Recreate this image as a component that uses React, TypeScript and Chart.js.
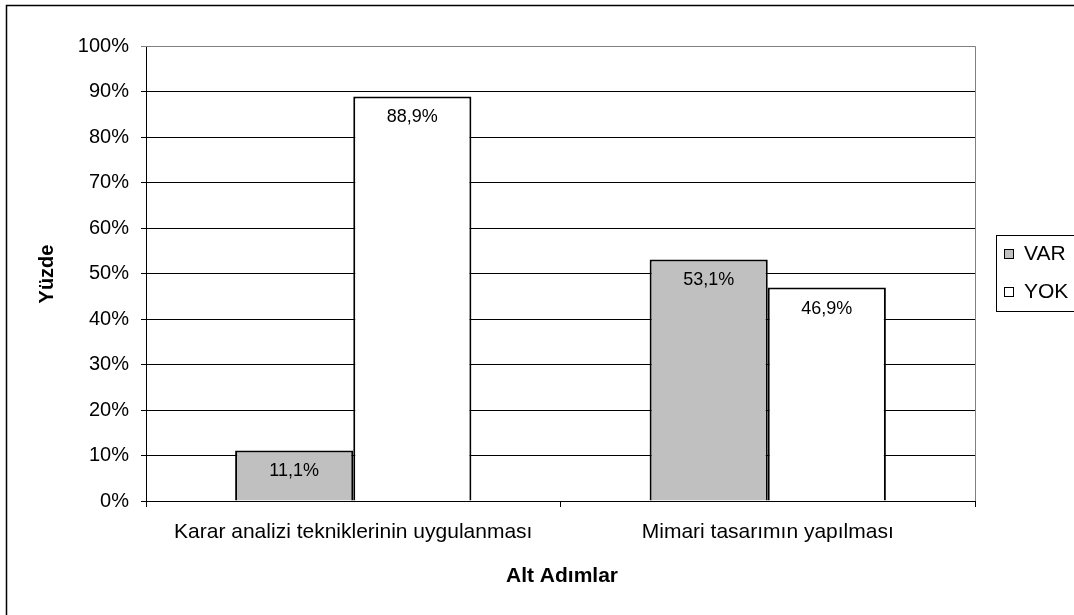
import React, { useEffect, useRef } from "react";
import { Chart, registerables } from "chart.js";

Chart.register(...registerables);

const categories = ["Karar analizi tekniklerinin uygulanması", "Mimari tasarımın yapılması"];
const seriesNames = ["VAR", "YOK"];
const varValues = [11.1, 53.1];
const yokValues = [88.9, 46.9];
const yTickValues = [0, 10, 20, 30, 40, 50, 60, 70, 80, 90, 100];
const seriesColors = ["#C0C0C0", "#FFFFFF"];
const yTitle = "Yüzde";
const xTitle = "Alt Adımlar";

const FONT = "'Liberation Sans', Arial, sans-serif";

const fmt = (v: number) => v.toFixed(1).replace(".", ",") + "%";

const decorPlugin = {
  id: "decor",
  beforeDraw(chart: any) {
    const ctx = chart.ctx;
    ctx.save();
    ctx.fillStyle = "#fff";
    ctx.fillRect(0, 0, chart.width, chart.height);
    ctx.restore();
  },
  afterDatasetsDraw(chart: any) {
    const ctx = chart.ctx;
    ctx.save();
    ctx.font = `18px ${FONT}`;
    ctx.fillStyle = "#000";
    ctx.textAlign = "center";
    ctx.textBaseline = "middle";
    chart.data.datasets.forEach((ds: any, di: number) => {
      const meta = chart.getDatasetMeta(di);
      meta.data.forEach((bar: any, i: number) => {
        ctx.fillText(fmt(ds.data[i]), bar.x, bar.y + 21);
      });
    });
    ctx.restore();
  },
  afterDraw(chart: any) {
    const ctx = chart.ctx;
    const a = chart.chartArea;
    ctx.save();
    // plot area grey border (top/right)
    ctx.strokeStyle = "#808080";
    ctx.lineWidth = 1;
    ctx.beginPath();
    ctx.moveTo(a.left, Math.round(a.top) + 0.5);
    ctx.lineTo(Math.round(a.right) + 0.5, Math.round(a.top) + 0.5);
    ctx.lineTo(Math.round(a.right) + 0.5, a.bottom);
    ctx.stroke();
    // outer border
    ctx.strokeStyle = "#000";
    ctx.lineWidth = 1.5;
    ctx.strokeRect(6.5, 5.5, 3000, 3000);
    // axis titles
    ctx.fillStyle = "#000";
    ctx.font = `bold 21px ${FONT}`;
    ctx.textAlign = "center";
    ctx.textBaseline = "middle";
    ctx.fillText(xTitle, 562, 576);
    ctx.save();
    ctx.translate(47, 274);
    ctx.rotate(-Math.PI / 2);
    ctx.font = `bold 20px ${FONT}`;
    ctx.fillText(yTitle, 0, 0);
    ctx.restore();
    // legend
    ctx.strokeStyle = "#000";
    ctx.lineWidth = 1;
    ctx.fillStyle = "#fff";
    ctx.fillRect(996.5, 235.5, 200, 76);
    ctx.strokeRect(996.5, 235.5, 200, 76);
    ctx.font = `21px ${FONT}`;
    ctx.textAlign = "left";
    const rowY = [253, 291];
    seriesNames.forEach((name, i) => {
      ctx.fillStyle = seriesColors[i];
      ctx.fillRect(1004.5, rowY[i] - 3.5, 9, 9);
      ctx.strokeStyle = "#000";
      ctx.strokeRect(1004.5, rowY[i] - 3.5, 9, 9);
      ctx.fillStyle = "#000";
      ctx.fillText(name, 1024, rowY[i] + 1);
    });
    ctx.restore();
  },
};

export default function App() {
  const ref = useRef<HTMLCanvasElement>(null);
  useEffect(() => {
    if (!ref.current) return;
    const chart = new Chart(ref.current, {
      type: "bar",
      data: {
        labels: categories,
        datasets: [
          {
            label: seriesNames[0],
            data: varValues,
            backgroundColor: seriesColors[0],
            borderColor: "#000",
            borderWidth: 2,
            categoryPercentage: 0.57,
            barPercentage: 1,
          },
          {
            label: seriesNames[1],
            data: yokValues,
            backgroundColor: seriesColors[1],
            borderColor: "#000",
            borderWidth: 2,
            categoryPercentage: 0.57,
            barPercentage: 1,
          },
        ],
      },
      options: {
        responsive: false,
        animation: false,
        events: [],
        layout: { padding: { left: 0, top: 46, right: 99, bottom: 0 } },
        plugins: { legend: { display: false }, tooltip: { enabled: false } },
        scales: {
          x: {
            offset: true,
            grid: { drawOnChartArea: false, drawTicks: true, tickLength: 6, color: "#000", offset: true },
            border: { display: true, color: "#000", width: 1 },
            ticks: { color: "#000", font: { family: FONT, size: 21 }, padding: 13, maxRotation: 0, autoSkip: false },
            afterFit: (s: any) => {
              s.height = 114;
            },
          },
          y: {
            min: 0,
            max: 100,
            afterBuildTicks: (s: any) => {
              s.ticks = yTickValues.map((v) => ({ value: v }));
            },
            grid: {
              color: (c: any) => (c.tick && c.tick.value === 100 ? "#808080" : "#000"),
              tickLength: 5,
              lineWidth: 1,
            },
            border: { display: true, color: "#000", width: 1 },
            ticks: {
              color: "#000",
              font: { family: FONT, size: 20 },
              padding: 12,
              callback: (v: any) => v + "%",
            },
            afterFit: (s: any) => {
              s.width = 146;
            },
          },
        },
      },
      plugins: [decorPlugin],
    });
    return () => chart.destroy();
  }, []);
  return (
    <div style={{ position: "fixed", left: 0, top: 0, width: 1074, height: 615, background: "#fff" }}>
      <canvas ref={ref} width={1074} height={615} style={{ width: 1074, height: 615, display: "block" }} />
    </div>
  );
}
